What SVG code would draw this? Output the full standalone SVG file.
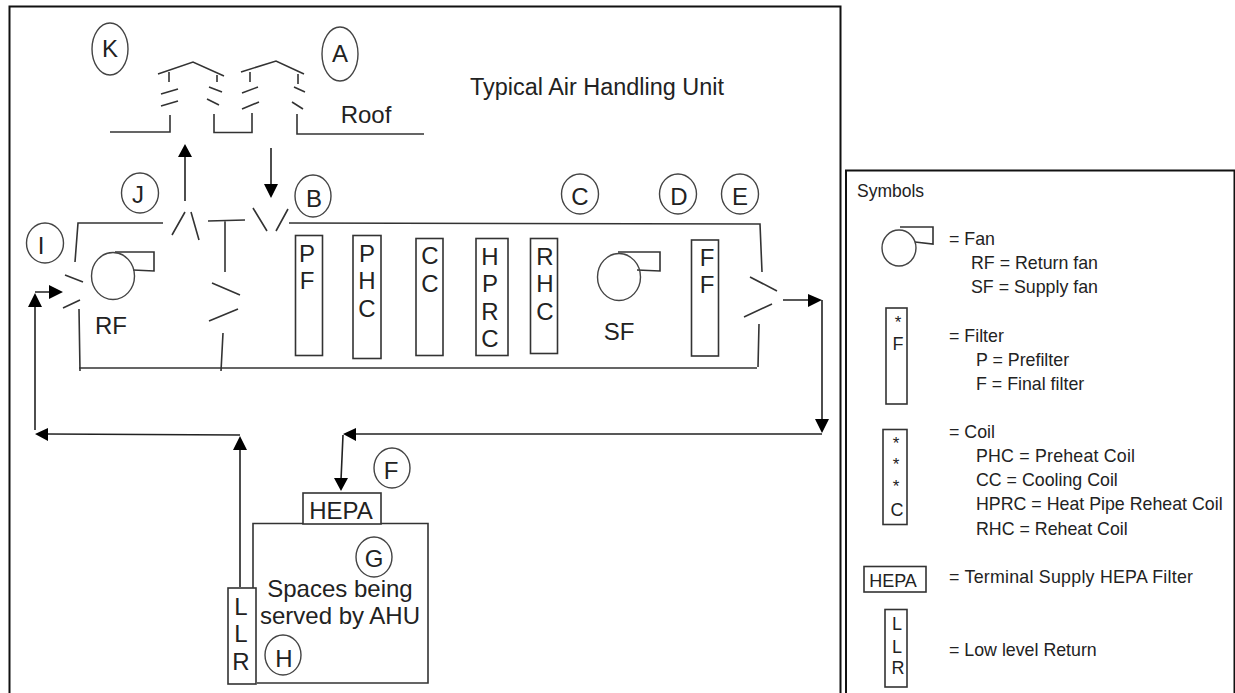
<svg xmlns="http://www.w3.org/2000/svg" width="1235" height="693" viewBox="0 0 1235 693">
<defs>
<style>
.l{fill:none;stroke:#333;stroke-width:1.6}
.w{fill:#fff;stroke:#333;stroke-width:1.6}
.c{fill:#fff;stroke:#444;stroke-width:1.4}
.a{fill:none;stroke:#222;stroke-width:1.6}
.h{fill:#000;stroke:none}
text{font-family:"Liberation Sans",Arial,sans-serif;fill:#222}
.t{font-size:24px;text-anchor:middle}
.s{font-size:17.800px}
.m{font-size:18px;text-anchor:middle}
</style>
</defs>
<rect width="1235" height="693" fill="#fff"/>
<g id="frame"><path d="M9.500 693V6.500H840.500V693" fill="none" stroke="#111" stroke-width="2"/></g>
<g id="legend-frame"><path d="M846 693V170.500H1234.500V693" fill="none" stroke="#111" stroke-width="2"/></g>

<g id="vents">
<path class="l" d="M158 74L193 62L224 76M169 72V82M217 75V82M161 94L178 89M161 106L178 101M209 87L222 92M207 99L219 105M170 115V132H110M214 114V132.500H252V113"/>
<path class="l" d="M241 72L276 61L304 74M250 72V82M298 74V84M242 93L258 87M242 109L259 102M294 87L305 92M292 102L303 109M297 114V134H424"/>
<text class="t" x="366" y="123">Roof</text>
</g>

<g id="ahu-casing">
<path class="l" d="M163 223H78L75 262M79 309L80 371M79 368H757M208 221L245 220M225 221V272M223 333L221 371M289 223L760 224L762 272M759 324L758 367"/>
<path class="l" d="M172 235L185 212M191 212L199 240M212 283L240 295M209 321L238 309M253 208L267 231M276 231L288 209M750 277L777 291M744 317L772 304M65 275L83 282M63 308L80 300"/>
</g>

<g id="title"><text x="470" y="95" font-size="23.450">Typical Air Handling Unit</text></g>

<g id="connectors">
<path class="a" d="M185 201V155M271 148V186M35 430V305M35 292H52M240 587V448M240 435L47 434M783 300H810M822 300V421M822 434H355M343 435L341 480"/>
<path class="h" d="M185 144L192 157H178ZM271 198L264 184H278ZM35 293L42 307H28ZM63 292L49 285V299ZM35 434L48 428V441ZM240 436L247 450H233ZM822 300L808 294V307ZM822 433L815 419H829ZM343 434L356 428V441ZM341 491L334 478H348Z"/>
</g>

<g id="node-K"><ellipse class="c" cx="110" cy="49" rx="18" ry="26"/><text class="t" x="110" y="57">K</text></g>
<g id="node-A"><ellipse class="c" cx="340" cy="54" rx="18" ry="27"/><text class="t" x="340" y="62">A</text></g>
<g id="node-J"><ellipse class="c" cx="140" cy="193" rx="18.500" ry="20"/><text class="t" x="138" y="203">J</text></g>
<g id="node-B"><ellipse class="c" cx="313" cy="196" rx="18" ry="21"/><text class="t" x="314" y="207">B</text></g>
<g id="node-I"><ellipse class="c" cx="45" cy="243" rx="18.500" ry="20"/><text class="t" x="41" y="254">I</text></g>
<g id="node-C"><ellipse class="c" cx="580" cy="194" rx="18.500" ry="20"/><text class="t" x="580" y="205">C</text></g>
<g id="node-D"><ellipse class="c" cx="678" cy="194" rx="18.500" ry="20"/><text class="t" x="679" y="205">D</text></g>
<g id="node-E"><ellipse class="c" cx="740" cy="194" rx="18.500" ry="20"/><text class="t" x="740" y="205">E</text></g>
<g id="node-F"><ellipse class="c" cx="392" cy="468" rx="18" ry="20"/><text class="t" x="391" y="479">F</text></g>
<g id="node-G"><ellipse class="c" cx="374" cy="557" rx="18" ry="20"/><text class="t" x="374" y="567">G</text></g>
<g id="node-H"><ellipse class="c" cx="283" cy="655" rx="18" ry="20"/><text class="t" x="284" y="667">H</text></g>

<g id="node-RF"><path class="l" d="M115 252H154V271L133 270"/><ellipse class="c" cx="113" cy="276" rx="21.500" ry="23.500" style="fill:none"/><text class="t" x="111" y="334">RF</text></g>
<g id="node-SF"><path class="l" d="M618 252H660V271L637 270"/><ellipse class="c" cx="619" cy="277" rx="21.500" ry="23.500" style="fill:none"/><text class="t" x="619" y="340">SF</text></g>

<g id="node-PF"><rect class="w" x="295.500" y="235.500" width="27" height="120"/><text class="t" x="307" y="262">P</text><text class="t" x="307" y="289">F</text></g>
<g id="node-PHC"><rect class="w" x="353" y="235.500" width="28" height="123"/><text class="t" x="367" y="262">P</text><text class="t" x="367" y="289">H</text><text class="t" x="367" y="317">C</text></g>
<g id="node-CC"><rect class="w" x="416" y="238.500" width="27" height="117"/><text class="t" x="430" y="264">C</text><text class="t" x="430" y="292">C</text></g>
<g id="node-HPRC"><rect class="w" x="476" y="238.500" width="32" height="117"/><text class="t" x="490" y="265">H</text><text class="t" x="490" y="292">P</text><text class="t" x="490" y="320">R</text><text class="t" x="490" y="347">C</text></g>
<g id="node-RHC"><rect class="w" x="530.500" y="238.500" width="27" height="115"/><text class="t" x="545" y="265">R</text><text class="t" x="545" y="292">H</text><text class="t" x="545" y="320">C</text></g>
<g id="node-FF"><rect class="w" x="691.500" y="240" width="27" height="116"/><text class="t" x="707" y="266">F</text><text class="t" x="707" y="293">F</text></g>

<g id="node-space">
<path class="l" d="M303 523.500H253V588M381 523.500H428V683H257"/>
<text class="t" x="340" y="597">Spaces being</text>
<text class="t" x="340" y="624">served by AHU</text>
</g>
<g id="node-HEPA"><rect class="w" x="303" y="493" width="78" height="31"/><text class="t" x="341" y="519">HEPA</text></g>
<g id="node-LLR"><rect class="w" x="228" y="588" width="28" height="96"/><text class="t" x="241" y="615">L</text><text class="t" x="241" y="642">L</text><text class="t" x="241" y="670">R</text></g>

<g id="legend">
<text x="857" y="197" font-size="17.500">Symbols</text>
<g id="legend-fan"><path class="l" d="M900 227H933V244L915 242"/><ellipse class="c" cx="899" cy="248" rx="17" ry="18" style="fill:none"/>
<text class="s" x="949" y="245">= Fan</text><text class="s" x="971" y="269">RF = Return fan</text><text class="s" x="971" y="293">SF = Supply fan</text></g>
<g id="legend-filter"><rect class="w" x="886" y="308" width="21" height="96"/><text class="m" x="898" y="328" style="font-size:17px">*</text><text class="m" x="898" y="350">F</text>
<text class="s" x="949" y="342">= Filter</text><text class="s" x="976" y="366">P = Prefilter</text><text class="s" x="976" y="390">F = Final filter</text></g>
<g id="legend-coil"><rect class="w" x="883" y="429.500" width="24" height="95"/><text class="m" x="896" y="449" style="font-size:17px">*</text><text class="m" x="896" y="470" style="font-size:17px">*</text><text class="m" x="896" y="492" style="font-size:17px">*</text><text class="m" x="897" y="516">C</text>
<text class="s" x="949" y="438">= Coil</text><text class="s" x="976" y="462" textLength="159">PHC = Preheat Coil</text><text class="s" x="976" y="486">CC = Cooling Coil</text><text class="s" x="976" y="510">HPRC = Heat Pipe Reheat Coil</text><text class="s" x="976" y="535">RHC = Reheat Coil</text></g>
<g id="legend-hepa"><rect class="w" x="864" y="566.500" width="62" height="25.500"/><text class="m" x="893" y="587">HEPA</text><text class="s" x="949" y="583" textLength="244">= Terminal Supply HEPA Filter</text></g>
<g id="legend-llr"><rect class="w" x="885" y="609.500" width="22" height="77.500"/><text class="m" x="897" y="630">L</text><text class="m" x="897" y="653">L</text><text class="m" x="898" y="674">R</text><text class="s" x="949" y="656">= Low level Return</text></g>
</g>
</svg>
